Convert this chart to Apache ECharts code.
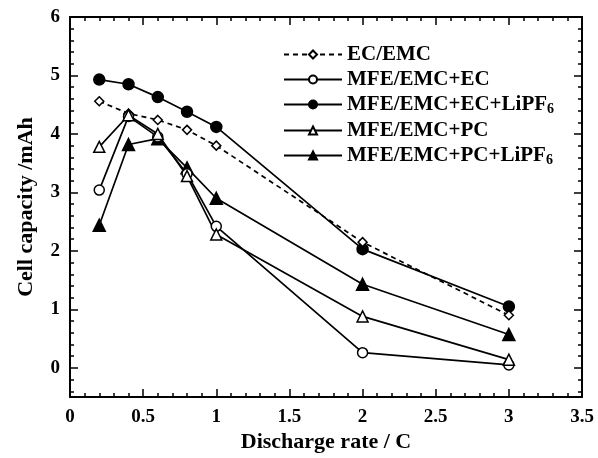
<!DOCTYPE html>
<html>
<head>
<meta charset="utf-8">
<script src="https://cdn.jsdelivr.net/npm/echarts@6/dist/echarts.min.js"></script>
<style>
  html, body { margin: 0; padding: 0; background: #fff; }
  #main { width: 598px; height: 458px; }
</style>
</head>
<body>
<div id="main"></div>
<script>
// discharge rates (C)
const rates = [0.2, 0.4, 0.6, 0.8, 1, 2, 3]
const names = ['EC/EMC', 'MFE/EMC+EC', 'MFE/EMC+EC+LiPF6', 'MFE/EMC+PC', 'MFE/EMC+PC+LiPF6']
// cell capacity (mAh)
const ecEmc = [4.56, 4.35, 4.24, 4.07, 3.8, 2.15, 0.9]
const mfeEc = [3.04, 4.3, 3.95, 3.32, 2.42, 0.26, 0.05]
const mfeEcLi = [4.93, 4.85, 4.63, 4.38, 4.12, 2.03, 1.05]
const mfePc = [3.78, 4.32, 4.0, 3.28, 2.28, 0.88, 0.14]
const mfePcLi = [2.44, 3.82, 3.92, 3.42, 2.9, 1.43, 0.57]

const font = 'Liberation Serif'

function pairs(vals) {
  return rates.map((r, i) => [r, vals[i]])
}

function makeSeries(name, vals, symbol, size, filled, dashed) {
  return {
    name: name,
    type: 'line',
    data: pairs(vals),
    symbol: symbol,
    symbolSize: size,
    showSymbol: true,
    lineStyle: { color: '#000', width: 1.7, type: dashed ? [5, 4] : 'solid' },
    itemStyle: { color: filled ? '#000' : '#fff', borderColor: '#000', borderWidth: 1.5 },
    emphasis: { disabled: true },
    z: filled ? 3 : 4
  }
}

const chart = echarts.init(document.getElementById('main'))

// same look for the mirrored top/right axes
function boxAxis(extra) {
  return Object.assign({
    type: 'value',
    axisLine: { onZero: false, lineStyle: { color: '#000', width: 2 } },
    axisTick: { inside: true, length: 8, lineStyle: { color: '#000', width: 1.5 } },
    minorTick: { show: true, splitNumber: 5, length: 4, lineStyle: { color: '#000', width: 1.5 } },
    splitLine: { show: false }
  }, extra)
}

const labelStyle = { margin: 10, fontFamily: font, fontWeight: 'bold', fontSize: 19, color: '#000' }
const nameStyle = { fontFamily: font, fontWeight: 'bold', fontSize: 22, color: '#000' }

chart.setOption({
  animation: false,
  backgroundColor: '#fff',
  grid: { left: 70, right: 16, top: 17, bottom: 57 },
  legend: {
    orient: 'vertical',
    left: 278,
    top: 39,
    itemWidth: 58,
    itemHeight: 10,
    itemGap: 4,
    data: names,
    textStyle: {
      fontFamily: font, fontWeight: 'bold', fontSize: 21, color: '#000',
      rich: {
        sub: { fontFamily: font, fontWeight: 'bold', fontSize: 14, verticalAlign: 'bottom', padding: [9, 0, 0, 0] }
      }
    },
    formatter: function (n) {
      return n.replace('LiPF6', 'LiPF{sub|6}')
    }
  },
  xAxis: [
    boxAxis({
      min: 0, max: 3.5, interval: 0.5,
      name: 'Discharge rate / C', nameLocation: 'middle', nameGap: 31,
      nameTextStyle: nameStyle,
      axisLabel: Object.assign({ formatter: v => String(v) }, labelStyle)
    }),
    boxAxis({ position: 'top', min: 0, max: 3.5, interval: 0.5, axisLabel: { show: false } })
  ],
  yAxis: [
    boxAxis({
      min: -0.5, max: 6, splitNumber: 7,
      name: 'Cell capacity /mAh', nameLocation: 'middle', nameGap: 33,
      nameTextStyle: nameStyle,
      axisLabel: Object.assign({ formatter: v => (v < 0 ? '' : String(v)) }, labelStyle)
    }),
    boxAxis({ position: 'right', min: -0.5, max: 6, splitNumber: 7, axisLabel: { show: false } })
  ],
  series: [
    makeSeries(names[0], ecEmc, 'diamond', 9, false, true),
    makeSeries(names[1], mfeEc, 'circle', 10, false, false),
    makeSeries(names[2], mfeEcLi, 'circle', 11, true, false),
    makeSeries(names[3], mfePc, 'triangle', 11, false, false),
    makeSeries(names[4], mfePcLi, 'triangle', 12, true, false)
  ]
})
</script>
</body>
</html>
